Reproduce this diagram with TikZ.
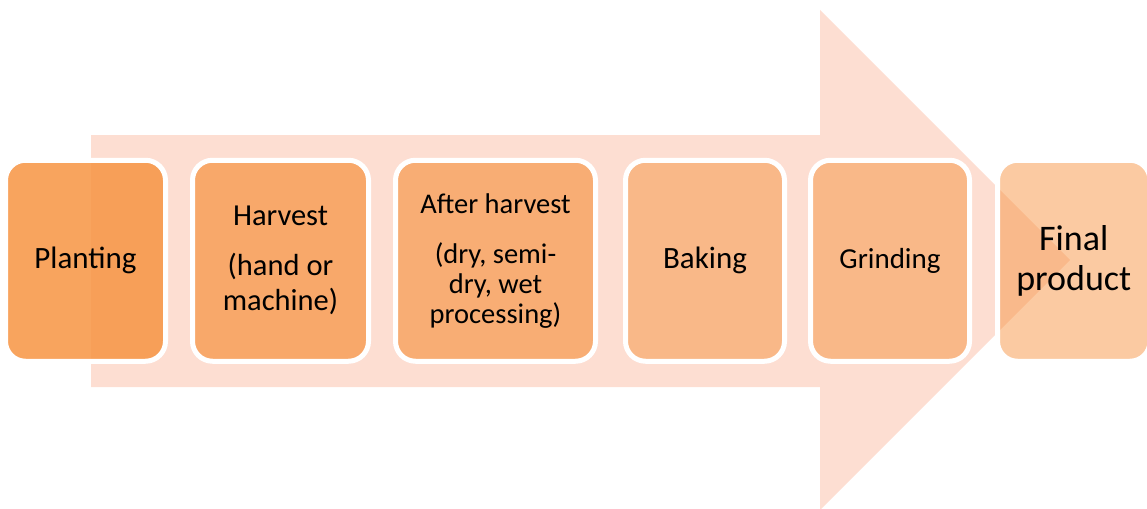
\documentclass[tikz,border=0pt]{standalone}
\usepackage{fontspec}
\setmainfont{Carlito}
\definecolor{stageorange}{HTML}{F79646}
\definecolor{arrowtint}{HTML}{FDDED2}
\begin{document}
\begin{tikzpicture}[x=1pt,y=-1pt,
  stagebox/.style={draw=white, line width=5pt, rounded corners=20pt,
    fill=stageorange, text=black, text opacity=1, draw opacity=1,
    inner sep=0pt, minimum height=201pt, align=center},
]
\useasboundingbox (0,0) rectangle (1147,508);
% broad background arrow
\fill[arrowtint] (91,135) -- (820,135) -- (820,10) -- (1070,260)
  -- (820,510) -- (820,387) -- (91,387) -- cycle;
% process stages
\node[stagebox, fill opacity=0.87, minimum width=160pt,
  font=\fontsize{31}{35}\selectfont] (planting) at (85.5,260.75) {Planting};
\node[stagebox, fill opacity=0.74, minimum width=176pt,
  font=\fontsize{30.5}{35}\selectfont] (harvest) at (280.5,260.75)
  {Harvest\\[15pt](hand or\\machine)};
\node[stagebox, fill opacity=0.67, minimum width=200pt,
  font=\fontsize{28.5}{30}\selectfont] (afterharvest) at (495.5,260.75)
  {After harvest\\[20pt](dry, semi-\\dry, wet\\processing)};
\node[stagebox, fill opacity=0.52, minimum width=159pt,
  font=\fontsize{31}{35}\selectfont] (baking) at (705,260.75) {Baking};
\node[stagebox, fill opacity=0.52, minimum width=159pt,
  font=\fontsize{29}{35}\selectfont] (grinding) at (890,260.75) {Grinding};
\node[stagebox, fill opacity=0.5, minimum width=152.5pt,
  font=\fontsize{36}{40}\selectfont] (final) at (1073.75,260.75) {Final\\product};
\end{tikzpicture}
\end{document}
